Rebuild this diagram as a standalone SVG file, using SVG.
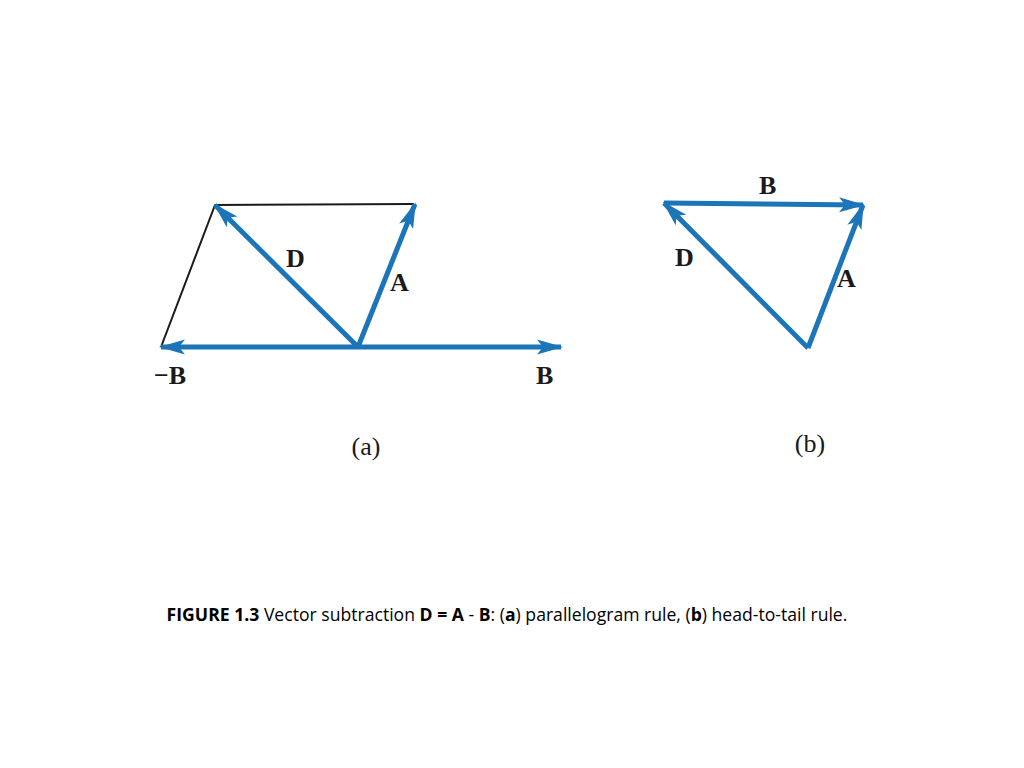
<svg xmlns="http://www.w3.org/2000/svg" width="1024" height="768" viewBox="0 0 1024 768">
<style>
.vec{stroke:#1b75b8;stroke-width:5;fill:none;marker-end:url(#ah)}
.thin{stroke:#1a1a1a;stroke-width:2;fill:none}
.lbl{font-family:"Liberation Serif",serif;font-weight:bold;font-size:26px;fill:#1a1a1a}
.sub{font-family:"Liberation Serif",serif;font-size:26px;fill:#1a1a1a}
.cap{font-family:"Open Sans","Liberation Sans",sans-serif;font-size:17.6px;fill:#000}
</style>
<defs>
<marker id="ah" markerUnits="userSpaceOnUse" markerWidth="26" markerHeight="18" refX="24" refY="9" orient="auto" viewBox="0 0 26 18">
<path d="M0,1.5 L26,9 L0,16.5 L6,9 Z" fill="#1b75b8"/>
</marker>
</defs>
<g id="parallelogram-edges">
<line class="thin" x1="215" y1="205" x2="414" y2="204"/>
<line class="thin" x1="215" y1="205" x2="161" y2="347"/>
</g>
<g id="connectors">
<line class="vec" x1="358" y1="347" x2="161" y2="347"/>
<line class="vec" x1="358" y1="347" x2="561" y2="347"/>
<line class="vec" x1="358" y1="347" x2="415" y2="204"/>
<line class="vec" x1="358" y1="347" x2="215" y2="205"/>
<line class="vec" x1="664" y1="203" x2="863" y2="205"/>
<line class="vec" x1="808" y1="348" x2="863" y2="205"/>
<line class="vec" x1="808" y1="348" x2="664" y2="203"/>
</g>
<g id="label-a-D"><text class="lbl" x="286" y="267">D</text></g>
<g id="label-a-A"><text class="lbl" x="390" y="291">A</text></g>
<g id="label-a-negB"><text class="lbl" x="154" y="384">−B</text></g>
<g id="label-a-B"><text class="lbl" x="536" y="384">B</text></g>
<g id="label-b-B"><text class="lbl" x="759" y="194">B</text></g>
<g id="label-b-D"><text class="lbl" x="675" y="266">D</text></g>
<g id="label-b-A"><text class="lbl" x="837" y="287">A</text></g>
<g id="sub-a"><text class="sub" x="366" y="455" text-anchor="middle">(a)</text></g>
<g id="sub-b"><text class="sub" x="810" y="452" text-anchor="middle">(b)</text></g>
<g id="caption"><text class="cap" x="507" y="621" text-anchor="middle"><tspan font-weight="bold">FIGURE 1.3</tspan> Vector subtraction <tspan font-weight="bold">D =  A</tspan> - <tspan font-weight="bold">B</tspan>: (<tspan font-weight="bold">a</tspan>) parallelogram rule, (<tspan font-weight="bold">b</tspan>) head-to-tail rule.</text></g>
</svg>
